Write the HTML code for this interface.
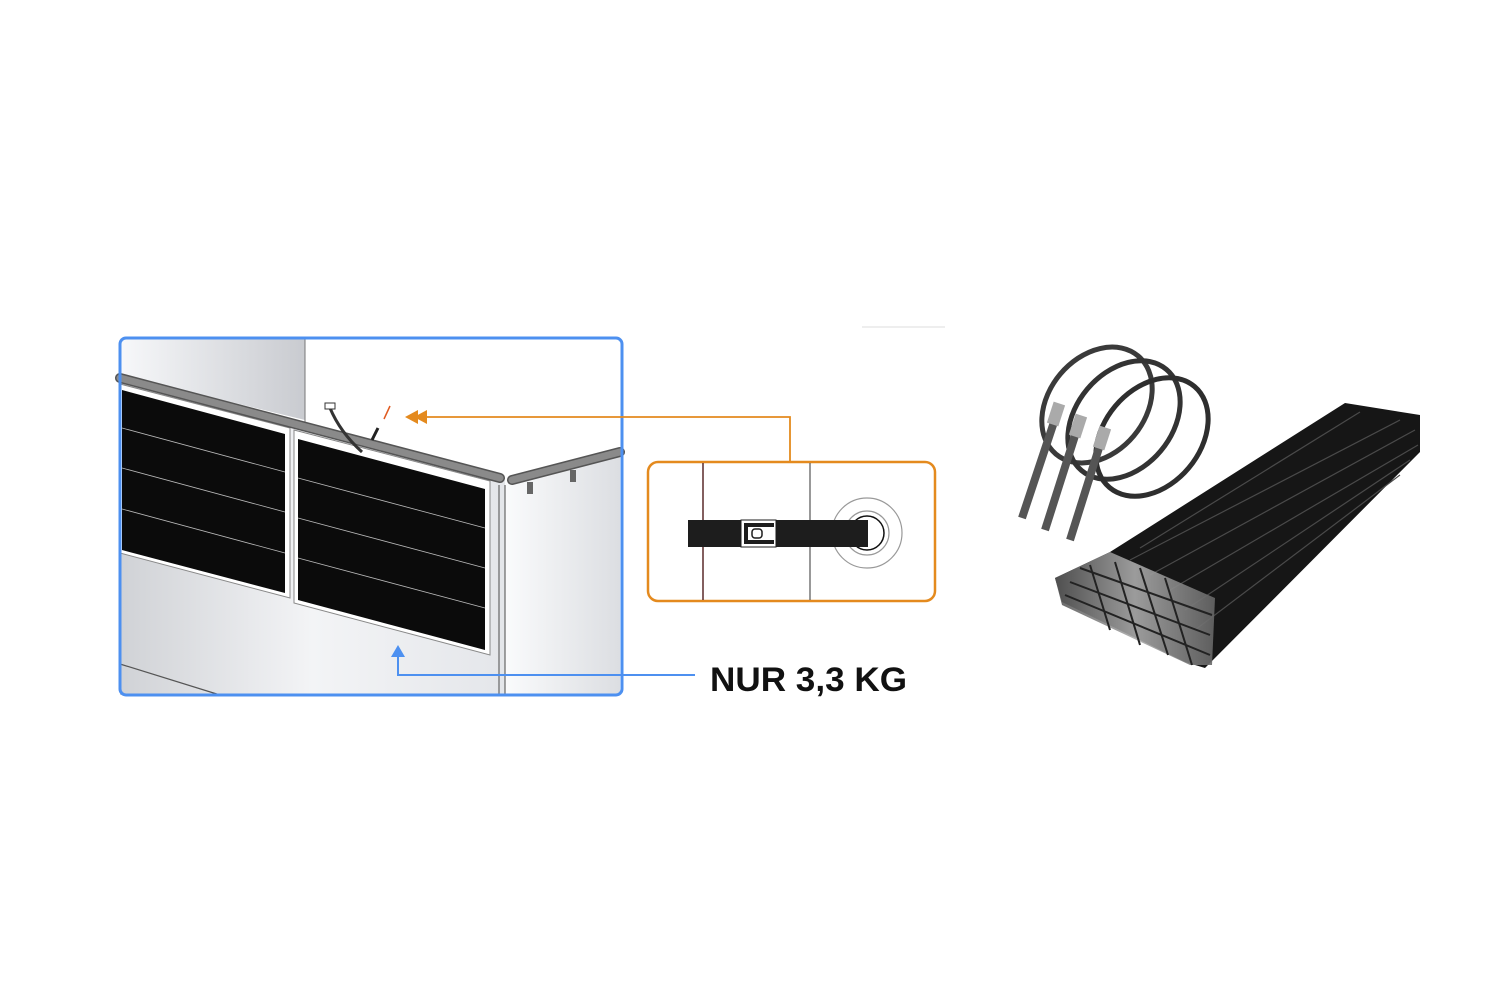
<!DOCTYPE html>
<html><head><meta charset="utf-8"><style>
html,body{margin:0;padding:0;background:#fff;width:1500px;height:1000px;overflow:hidden}
</style></head><body>
<svg width="1500" height="1000" viewBox="0 0 1500 1000" xmlns="http://www.w3.org/2000/svg">
<defs>
<linearGradient id="wall" x1="0" y1="0" x2="1" y2="0">
<stop offset="0" stop-color="#d0d2d6"/><stop offset="0.5" stop-color="#f3f4f6"/><stop offset="1" stop-color="#e4e6ea"/></linearGradient>
<linearGradient id="wall2" x1="0" y1="0" x2="1" y2="0">
<stop offset="0" stop-color="#f7f8fa"/><stop offset="1" stop-color="#c9cbd0"/></linearGradient>
<linearGradient id="side" x1="0" y1="0" x2="1" y2="0">
<stop offset="0" stop-color="#fafbfc"/><stop offset="1" stop-color="#dcdee2"/></linearGradient>
<linearGradient id="head" x1="0" y1="0" x2="1" y2="0">
<stop offset="0" stop-color="#555"/><stop offset="0.5" stop-color="#aaa"/><stop offset="1" stop-color="#666"/></linearGradient>
</defs>
<line x1="862" y1="327" x2="945" y2="327" stroke="#ddd" stroke-width="1"/>
<g>
<rect x="120" y="338" width="502" height="357" fill="#fff"/>
<polygon points="120,338 305,338 305,420 120,375" fill="url(#wall2)"/>
<line x1="305" y1="338" x2="305" y2="425" stroke="#777" stroke-width="1"/>
<polygon points="120,380 505,480 505,695 120,695" fill="url(#wall)"/>
<polygon points="505,480 620,450 620,695 505,695" fill="url(#side)"/>
<line x1="120" y1="664" x2="220" y2="695" stroke="#555" stroke-width="1.2"/>
<line x1="499" y1="485" x2="499" y2="695" stroke="#666" stroke-width="1.2"/>
<line x1="505" y1="485" x2="505" y2="695" stroke="#666" stroke-width="1.2"/>
<polygon points="120,384 290,428 290,598 120,553" fill="#fff" stroke="#888" stroke-width="1"/>
<polygon points="294,430 490,481 490,655 294,603" fill="#fff" stroke="#888" stroke-width="1"/>
<polygon points="122,390 285,434 285,593 122,550" fill="#0b0b0b"/>
<polygon points="298,439 485,489 485,650 298,600" fill="#0b0b0b"/>
<g stroke="#bbb" stroke-width="0.8">
<line x1="122" y1="428" x2="285" y2="472"/><line x1="122" y1="468" x2="285" y2="512"/><line x1="122" y1="509" x2="285" y2="553"/>
<line x1="298" y1="478" x2="485" y2="528"/><line x1="298" y1="518" x2="485" y2="568"/><line x1="298" y1="558" x2="485" y2="608"/>
</g>
<line x1="120" y1="378" x2="500" y2="478" stroke="#555" stroke-width="10" stroke-linecap="round"/>
<line x1="120" y1="378" x2="500" y2="478" stroke="#8a8a8a" stroke-width="7" stroke-linecap="round"/>
<line x1="512" y1="480" x2="620" y2="452" stroke="#555" stroke-width="10" stroke-linecap="round"/>
<line x1="512" y1="480" x2="620" y2="452" stroke="#8a8a8a" stroke-width="7" stroke-linecap="round"/>
<rect x="527" y="482" width="6" height="12" fill="#666"/>
<rect x="570" y="470" width="6" height="12" fill="#666"/>
<path d="M330,408 Q340,432 362,452" stroke="#333" stroke-width="3" fill="none"/>
<rect x="325" y="403" width="10" height="6" fill="#fff" stroke="#333"/>
<line x1="372" y1="440" x2="378" y2="428" stroke="#222" stroke-width="3"/>
<line x1="384" y1="419" x2="390" y2="406" stroke="#e05a20" stroke-width="1.5"/>
<rect x="120" y="338" width="502" height="357" rx="6" fill="none" stroke="#4d90f0" stroke-width="3"/>
</g>
<polyline points="425,417 790,417 790,462" fill="none" stroke="#e48a1e" stroke-width="1.8"/>
<polygon points="405,417 418,410 418,424" fill="#e48a1e"/>
<polygon points="414,417 427,410 427,424" fill="#e48a1e"/>
<rect x="648" y="462" width="287" height="139" rx="10" fill="#fff" stroke="#e48a1e" stroke-width="2.5"/>
<line x1="703" y1="463" x2="703" y2="600" stroke="#5a2a2a" stroke-width="1.5"/>
<line x1="810" y1="463" x2="810" y2="600" stroke="#555" stroke-width="1.2"/>
<circle cx="867" cy="533" r="35" fill="none" stroke="#999" stroke-width="1.2"/>
<circle cx="867" cy="533" r="22" fill="none" stroke="#999" stroke-width="1.2"/>
<circle cx="867" cy="533" r="17" fill="none" stroke="#111" stroke-width="1.5"/>
<rect x="688" y="520" width="180" height="27" fill="#1d1d1d"/>
<rect x="741" y="520" width="35" height="27" fill="#fff" stroke="#1d1d1d"/>
<path d="M744,523 H774 V527 H748 V540 H774 V544 H744 Z" fill="#1d1d1d"/>
<rect x="752" y="529" width="10" height="9" rx="3" fill="none" stroke="#1d1d1d" stroke-width="1.5"/>
<polyline points="398,655 398,675 695,675" fill="none" stroke="#4d90f0" stroke-width="2"/>
<polygon points="391,657 398,645 405,657" fill="#4d90f0"/>
<text x="710" y="691" font-family="Liberation Sans, sans-serif" font-weight="bold" font-size="34" textLength="197" lengthAdjust="spacingAndGlyphs" fill="#111">NUR 3,3 KG</text>
<g fill="none" stroke-width="5">
<ellipse cx="1097" cy="405" rx="48" ry="64" transform="rotate(40 1097 405)" stroke="#3a3a3a"/>
<ellipse cx="1124" cy="420" rx="48" ry="66" transform="rotate(40 1124 420)" stroke="#333"/>
<ellipse cx="1152" cy="437" rx="48" ry="66" transform="rotate(40 1152 437)" stroke="#2e2e2e"/>
</g>
<g stroke="#555" stroke-width="8">
<line x1="1058" y1="410" x2="1022" y2="518"/>
<line x1="1080" y1="420" x2="1045" y2="530"/>
<line x1="1104" y1="432" x2="1070" y2="540"/>
</g>
<g fill="#aaa"><rect x="1050" y="403" width="12" height="22" transform="rotate(18 1056 414)"/>
<rect x="1072" y="415" width="12" height="22" transform="rotate(18 1078 426)"/>
<rect x="1096" y="427" width="12" height="22" transform="rotate(18 1102 438)"/></g>
<polygon points="1055,578 1110,552 1345,403 1420,415 1420,452 1205,668 1185,662 1062,602" fill="#161616"/>
<g stroke="#4a4a4a" stroke-width="1.2">
<line x1="1130" y1="560" x2="1400" y2="420"/><line x1="1150" y1="575" x2="1415" y2="430"/>
<line x1="1170" y1="590" x2="1418" y2="445"/><line x1="1185" y1="610" x2="1410" y2="460"/>
<line x1="1195" y1="630" x2="1400" y2="475"/><line x1="1140" y1="548" x2="1360" y2="412"/>
</g>
<polygon points="1055,578 1110,552 1215,598 1212,665 1190,665 1062,605" fill="url(#head)" opacity="0.9"/>
<g stroke="#222" stroke-width="2"><line x1="1065" y1="595" x2="1210" y2="655"/><line x1="1070" y1="582" x2="1210" y2="635"/><line x1="1080" y1="568" x2="1212" y2="615"/>
<line x1="1090" y1="565" x2="1110" y2="630"/><line x1="1115" y1="562" x2="1140" y2="645"/><line x1="1140" y1="568" x2="1168" y2="655"/><line x1="1165" y1="578" x2="1192" y2="665"/></g>
</svg>
</body></html>
